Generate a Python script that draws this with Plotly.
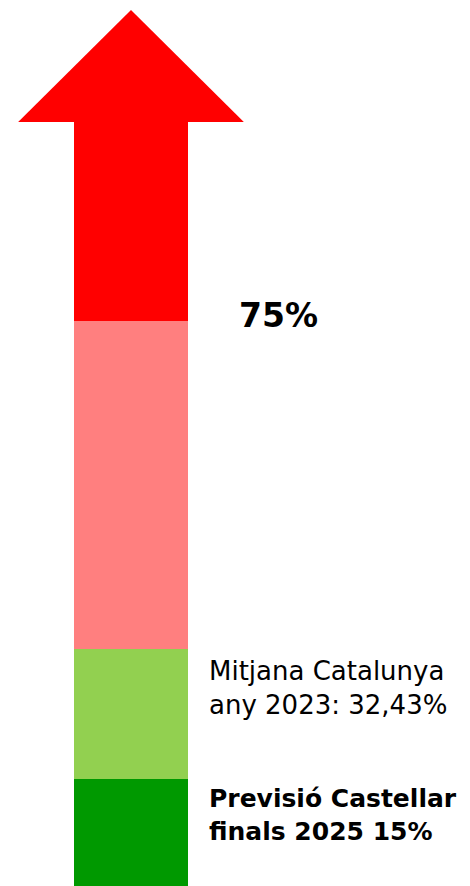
import plotly.graph_objects as go

# segment heights as drawn (bottom to top)
segments = ["Previsió Castellar", "Mitjana Catalunya", "Fins 75%", "Més de 75%"]
seg_heights = [107, 130, 328, 199]
seg_colors = ["#009900", "#92D050", "#FF7F7F", "#FF0000"]
head_height = 112
head_width = 1.98  # relative to bar width

labels = ["<b>Previsió Castellar<br>finals 2025 15%</b>",
          "Mitjana Catalunya<br>any 2023: 32,43%",
          "<b>75%</b>"]

fig = go.Figure()

for name, h, c in zip(segments, seg_heights, seg_colors):
    fig.add_trace(go.Bar(x=[0], y=[h], name=name, width=1,
                         marker=dict(color=c, line=dict(width=0)),
                         hoverinfo="skip"))

# arrow head on top of the stack
top = sum(seg_heights)
fig.add_trace(go.Scatter(
    x=[-head_width / 2, head_width / 2, 0, -head_width / 2],
    y=[top, top, top + head_height, top],
    fill="toself", fillcolor="#FF0000", mode="lines",
    line=dict(width=0, color="#FF0000"), hoverinfo="skip"))

# text labels beside the arrow
cum = [sum(seg_heights[:i + 1]) for i in range(len(seg_heights))]
font = "Verdana, DejaVu Sans, sans-serif"
fig.add_annotation(x=0.67, y=cum[0] / 2, text=labels[0], xanchor="left",
                   yanchor="middle", yshift=18, showarrow=False, align="left",
                   font=dict(family=font, size=25, color="black"))
fig.add_annotation(x=0.67, y=(cum[0] + cum[1]) / 2, text=labels[1],
                   xanchor="left", yanchor="middle", yshift=26, showarrow=False,
                   align="left", font=dict(family=font, size=26, color="black"))
fig.add_annotation(x=0.93, y=cum[2], text=labels[2], xanchor="left",
                   yanchor="middle", yshift=6, showarrow=False,
                   font=dict(family=font, size=33, color="black"))

fig.update_layout(
    width=470, height=886,
    margin=dict(l=0, r=0, t=0, b=0),
    barmode="stack", bargap=0, showlegend=False,
    plot_bgcolor="white", paper_bgcolor="white",
    xaxis=dict(range=[-1.079, 3.044], visible=False, fixedrange=True),
    yaxis=dict(range=[-8, 878], visible=False, fixedrange=True),
)

fig.write_html("out.html")
